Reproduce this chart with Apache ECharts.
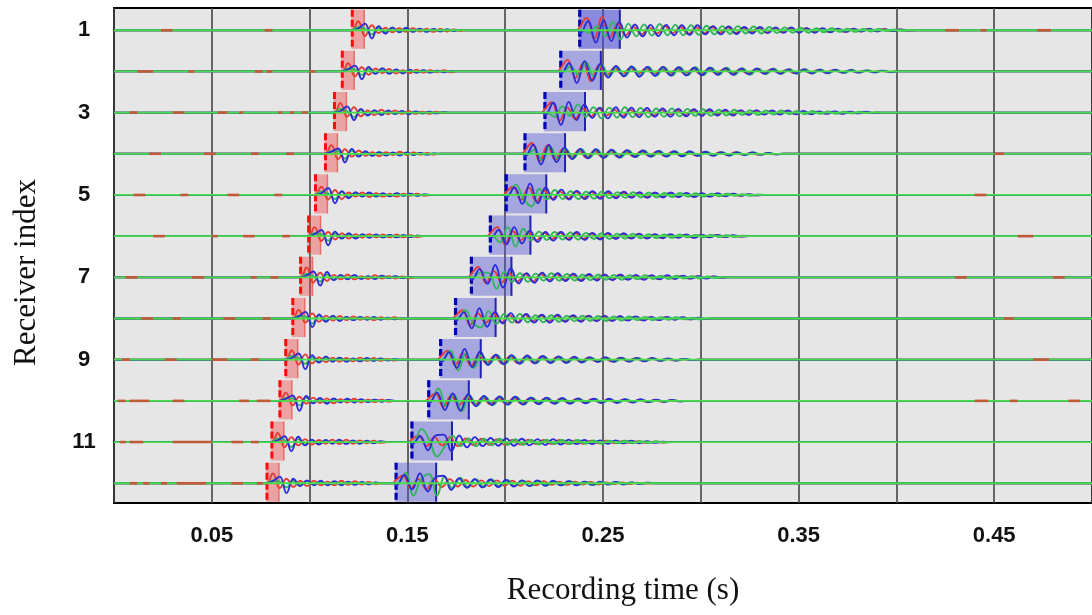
<!DOCTYPE html>
<html><head><meta charset="utf-8">
<script src="https://cdn.jsdelivr.net/npm/echarts@6/dist/echarts.min.js"></script>
<style>html,body{margin:0;padding:0;background:#fff}#c{width:1092px;height:615px}</style>
</head><body><div id="c"></div>
<script>
const receivers = [1,2,3,4,5,6,7,8,9,10,11,12];
const yTickLabels = ['1','3','5','7','9','11'];
const xTickLabels = ['0.05','0.15','0.25','0.35','0.45'];
// picked arrival times (s): P window start, S window start
const pPick = [0.1213,0.1162,0.1122,0.1076,0.1025,0.0990,0.0949,0.0909,0.0873,0.0843,0.0802,0.0777];
const sPick = [0.2376,0.2279,0.2198,0.2096,0.2000,0.1919,0.1822,0.1741,0.1665,0.1604,0.1518,0.1437];
const pWin = 0.0066, sWin = 0.021;
const pDt = 0.0035, sDt = 0.004;
const compLag = [0, 0.0014, 0.0007]; // red, green, blue
const tEnd = 0.5;

// P-wave segment amplitudes (fraction of trace spacing, + = up)
const pRed = [
[0,.22,-.14,.12,-.07,.06,-.05,.05,-.04,.05,-.03,.04,-.04,.03,-.03,.02,-.02,0],
[0,.2,-.12,.1,-.08,.07,-.04,.06,-.05,.03,-.04,.04,-.03,.03,-.02,.03,-.02,0],
[0,.23,-.1,.13,-.09,.05,-.06,.07,-.04,.05,-.03,.04,-.03,.02,-.03,.02,-.01,0],
[0,.21,-.13,.11,-.07,.08,-.05,.04,-.06,.04,-.03,.05,-.03,.03,-.02,.02,-.02,0],
[0,.2,-.11,.12,-.1,.06,-.04,.06,-.05,.04,-.04,.03,-.04,.03,-.02,.03,-.02,0],
[0,.22,-.12,.1,-.08,.07,-.06,.05,-.04,.05,-.03,.04,-.03,.04,-.03,.02,-.02,0],
[0,.24,-.13,.11,-.09,.06,-.05,.07,-.05,.03,-.04,.05,-.03,.03,-.03,.02,-.02,0],
[0,.21,-.1,.12,-.08,.07,-.05,.06,-.04,.05,-.03,.04,-.04,.03,-.02,.03,-.02,0],
[0,.23,-.12,.13,-.09,.06,-.06,.05,-.05,.04,-.04,.05,-.03,.04,-.03,.02,-.02,0],
[0,.2,-.11,.1,-.07,.08,-.05,.06,-.06,.04,-.04,.05,-.04,.03,-.03,.03,-.02,0],
[0,.22,-.13,.12,-.08,.07,-.06,.05,-.04,.06,-.05,.06,-.04,.04,-.03,.03,-.02,0],
[0,.24,-.12,.11,-.09,.06,-.07,.06,-.05,.04,-.05,.06,-.04,.05,-.03,.03,-.02,0]];
const pGreen = [
[0,.08,.04,-.1,.06,-.04,.05,-.04,.03,-.03,.03,-.02,.02,-.02,.02,-.01,.01,0],
[0,.07,.05,-.09,.06,-.05,.04,-.03,.04,-.02,.03,-.03,.02,-.02,.01,-.01,.01,0],
[0,.09,.03,-.11,.06,-.05,.04,-.04,.03,-.03,.03,-.02,.02,-.02,.02,-.01,.01,0],
[0,.06,.06,-.12,.07,-.04,.03,-.04,.04,-.03,.02,-.03,.02,-.02,.02,-.01,.01,0],
[0,.08,.04,-.1,.08,-.05,.04,-.03,.03,-.04,.02,-.03,.03,-.02,.01,-.02,.01,0],
[0,.07,.05,-.11,.06,-.04,.05,-.04,.03,-.02,.03,-.03,.02,-.02,.02,-.01,.01,0],
[0,.08,.03,-.1,.07,-.06,.04,-.03,.04,-.03,.02,-.03,.03,-.02,.02,-.01,.01,0],
[0,.06,.05,-.12,.07,-.05,.05,-.04,.03,-.03,.03,-.02,.03,-.02,.01,-.02,.01,0],
[0,.09,.04,-.1,.06,-.04,.04,-.03,.04,-.03,.02,-.03,.02,-.02,.02,-.01,.01,0],
[0,.07,.06,-.11,.08,-.05,.03,-.04,.03,-.02,.03,-.02,.03,-.02,.02,-.01,.01,0],
[0,.08,.05,-.12,.07,-.06,.04,-.04,.04,-.03,.03,-.03,.02,-.03,.02,-.02,.01,0],
[0,.07,.04,-.1,.06,-.05,.05,-.03,.03,-.03,.03,-.02,.03,-.02,.02,-.01,.01,0]];
const pBlue = [
[0,.04,.16,-.2,.1,-.08,.07,-.05,.06,-.04,.04,-.04,.03,-.03,.02,-.02,.01,0],
[0,.05,.14,-.19,.11,-.06,.08,-.06,.05,-.05,.04,-.03,.03,-.03,.02,-.02,.01,0],
[0,.03,.15,-.18,.09,-.07,.06,-.06,.05,-.03,.04,-.04,.03,-.02,.02,-.02,.01,0],
[0,.05,.13,-.21,.12,-.07,.06,-.05,.04,-.04,.03,-.04,.03,-.03,.02,-.02,.01,0],
[0,.04,.17,-.2,.09,-.08,.07,-.04,.06,-.03,.04,-.03,.04,-.02,.03,-.02,.01,0],
[0,.05,.15,-.22,.11,-.06,.07,-.06,.05,-.04,.04,-.03,.03,-.03,.02,-.02,.01,0],
[0,.04,.14,-.2,.13,-.07,.06,-.05,.06,-.04,.03,-.04,.04,-.02,.03,-.02,.01,0],
[0,.05,.16,-.21,.1,-.08,.07,-.06,.04,-.04,.04,-.03,.03,-.03,.02,-.02,.01,0],
[0,.04,.15,-.23,.11,-.07,.08,-.05,.05,-.05,.03,-.04,.04,-.03,.03,-.02,.01,0],
[0,.05,.13,-.24,.12,-.06,.07,-.07,.06,-.04,.05,-.04,.04,-.03,.03,-.02,.02,0],
[0,.04,.14,-.22,.13,-.08,.06,-.06,.05,-.04,.06,-.05,.04,-.04,.03,-.03,.02,0],
[0,.05,.16,-.24,.11,-.07,.07,-.05,.06,-.05,.05,-.05,.04,-.04,.03,-.03,.02,0]];

// S-wave + coda segment amplitudes
const sRed = [
[.04,.3,-.2,.32,-.18,.16,-.12,.08,-.1,.07,-.08,.1,-.07,.08,-.09,.07,-.08,.08,-.06,.07,-.07,.06,-.05,.06,-.06,.05,-.05,.05,-.04,.05,-.04,.04,-.04,.03,-.04,.03,-.03,.03,-.02,.03,-.02,.02,-.01,0],
[.05,.28,-.16,.2,-.24,.14,-.1,.09,-.07,.08,-.06,.07,-.07,.06,-.05,.06,-.05,.05,-.06,.05,-.04,.05,-.04,.04,-.05,.04,-.03,.04,-.03,.03,-.04,.03,-.03,.03,-.02,.03,-.02,.02,-.02,.02,-.01,.01,-.01,0],
[.06,.25,-.2,.12,-.15,.1,-.09,.1,-.07,.07,-.08,.07,-.06,.06,-.07,.06,-.05,.05,-.05,.05,-.04,.05,-.04,.04,-.04,.04,-.03,.04,-.03,.03,-.03,.03,-.03,.02,-.02,.02,-.02,.02,-.02,.01,-.01,.01,-.01,0],
[.05,.26,-.18,.2,-.14,.12,-.1,.08,-.09,.07,-.08,.07,-.07,.06,-.06,.06,-.05,.05,-.05,.05,-.04,.04,-.04,.04,-.03,.03,-.03,.03,-.02,.02,-.02,.01,-.01,0],
[.04,.2,-.12,.18,-.16,.1,-.09,.08,-.09,.08,-.07,.07,-.07,.06,-.06,.06,-.05,.05,-.05,.04,-.04,.04,-.04,.03,-.03,.03,-.03,.02,-.02,.02,-.02,.01,-.01,0],
[.05,.22,-.2,.12,-.1,.09,-.1,.08,-.07,.09,-.07,.07,-.07,.06,-.06,.06,-.05,.05,-.05,.05,-.04,.04,-.04,.03,-.03,.03,-.03,.02,-.02,.02,-.02,.01,-.01,0],
[.06,.25,-.14,.15,-.12,.09,-.1,.08,-.1,.08,-.07,.08,-.07,.06,-.07,.06,-.05,.06,-.05,.05,-.05,.04,-.04,.04,-.04,.03,-.03,.03,-.03,.02,-.02,.02,-.01,0],
[.04,.2,-.16,.12,-.1,.12,-.09,.08,-.1,.09,-.07,.08,-.07,.07,-.07,.06,-.06,.06,-.05,.05,-.05,.04,-.04,.04,-.04,.03,-.03,.03,-.02,.02,-.02,.01,-.01,0],
[.05,.22,-.12,.16,-.14,.1,-.08,.09,-.09,.08,-.08,.07,-.07,.07,-.06,.06,-.06,.05,-.05,.05,-.04,.04,-.04,.04,-.03,.03,-.03,.03,-.02,.02,-.02,.01,-.01,0],
[.04,.18,-.14,.12,-.1,.1,-.09,.08,-.08,.08,-.07,.07,-.07,.06,-.06,.06,-.05,.05,-.05,.04,-.04,.04,-.04,.03,-.03,.03,-.03,.02,-.02,.02,-.02,.01,-.01,0],
[.05,.16,-.1,.12,-.08,.12,-.1,.09,-.08,.08,-.07,.07,-.07,.06,-.06,.06,-.05,.05,-.05,.05,-.04,.04,-.04,.03,-.03,.03,-.03,.02,-.02,.02,-.02,.01,-.01,0],
[.06,.18,-.12,.1,-.14,.1,-.09,.1,-.08,.08,-.08,.07,-.07,.07,-.06,.06,-.06,.05,-.05,.05,-.04,.04,-.04,.04,-.03,.03,-.03,.02,-.02,.02,-.02,.01,-.01,0]];
const sGreen = [
[0,-.06,.1,-.14,.2,-.22,.16,-.15,.14,-.13,.15,-.12,.13,-.12,.12,-.11,.11,-.1,.1,-.09,.1,-.08,.09,-.08,.08,-.07,.07,-.06,.06,-.06,.05,-.05,.05,-.04,.04,-.04,.03,-.03,.03,-.02,.02,-.02,.01,0],
[0,.12,-.08,.22,-.12,.16,-.11,.1,-.11,.1,-.1,.11,-.1,.1,-.1,.1,-.09,.1,-.09,.09,-.08,.09,-.08,.08,-.08,.07,-.07,.07,-.06,.06,-.06,.06,-.05,.05,-.05,.04,-.04,.04,-.03,.03,-.03,.02,-.02,0],
[0,-.1,.15,-.08,.2,-.1,.13,-.14,.12,-.12,.13,-.11,.11,-.11,.1,-.1,.1,-.09,.09,-.08,.08,-.08,.07,-.07,.07,-.06,.06,-.06,.05,-.05,.05,-.04,.04,-.04,.04,-.03,.03,-.03,.02,-.02,.02,-.01,.01,0],
[0,.1,-.16,.18,-.12,.11,-.1,.11,-.1,.1,-.09,.09,-.09,.08,-.08,.08,-.07,.07,-.06,.06,-.06,.05,-.05,.05,-.04,.04,-.04,.03,-.03,.03,-.02,.02,-.01,0],
[0,.25,-.1,-.28,.15,-.11,.12,-.1,.09,-.1,.08,-.09,.08,-.08,.07,-.07,.07,-.06,.06,-.06,.05,-.05,.05,-.04,.04,-.04,.03,-.03,.03,-.02,.02,-.02,.01,0],
[0,-.15,.22,-.25,.18,-.1,.11,-.09,.1,-.08,.09,-.08,.08,-.07,.07,-.07,.06,-.06,.06,-.05,.05,-.05,.04,-.04,.04,-.03,.03,-.03,.03,-.02,.02,-.02,.01,0],
[0,.12,.1,-.28,.13,-.11,.1,-.11,.09,-.08,.1,-.08,.08,-.08,.07,-.07,.07,-.06,.06,-.06,.05,-.05,.05,-.04,.04,-.04,.04,-.03,.03,-.03,.02,-.02,.01,0],
[0,.2,-.1,-.22,.18,-.13,.11,-.1,.11,-.09,.08,-.09,.08,-.08,.07,-.07,.07,-.06,.06,-.06,.05,-.05,.05,-.04,.04,-.04,.03,-.03,.03,-.02,.02,-.02,.01,0],
[0,.22,-.26,.15,-.2,.11,-.1,.11,-.1,.09,-.09,.08,-.08,.08,-.07,.07,-.07,.06,-.06,.05,-.05,.05,-.05,.04,-.04,.04,-.03,.03,-.03,.02,-.02,.02,-.01,0],
[0,.3,-.12,.15,-.25,.13,-.11,.1,-.1,.09,-.09,.09,-.08,.08,-.07,.07,-.07,.06,-.06,.06,-.05,.05,-.05,.04,-.04,.04,-.03,.03,-.03,.02,-.02,.02,-.01,0],
[0,.32,.05,-.35,-.1,.15,-.1,.09,-.1,.08,-.08,.08,-.07,.07,-.07,.06,-.06,.06,-.05,.05,-.05,.05,-.04,.04,-.04,.03,-.03,.03,-.03,.02,-.02,.02,-.01,0],
[0,.25,-.3,.1,.22,-.3,.16,-.12,.13,-.1,.1,-.09,.09,-.08,.08,-.07,.07,-.07,.06,-.06,.05,-.05,.05,-.04,.04,-.04,.03,-.03,.03,-.02,.02,-.02,.01,0]];
const sBlue = [
[-.08,.22,-.3,.24,-.26,.2,-.18,.14,-.15,.13,-.14,.13,-.12,.12,-.11,.12,-.1,.1,-.1,.09,-.09,.08,-.08,.08,-.07,.07,-.06,.07,-.06,.05,-.06,.05,-.05,.04,-.04,.04,-.03,.03,-.03,.02,-.02,.02,-.01,0],
[-.05,.2,-.28,.25,-.22,.18,-.15,.13,-.12,.12,-.13,.11,-.11,.11,-.1,.1,-.1,.09,-.09,.09,-.08,.08,-.08,.07,-.07,.07,-.06,.06,-.06,.05,-.05,.05,-.05,.04,-.04,.04,-.03,.03,-.03,.02,-.02,.02,-.01,0],
[-.06,.24,-.3,.26,-.18,.2,-.13,.12,-.14,.13,-.12,.12,-.11,.11,-.1,.1,-.1,.09,-.09,.08,-.08,.08,-.07,.07,-.07,.06,-.06,.06,-.05,.05,-.05,.05,-.04,.04,-.04,.03,-.03,.03,-.03,.02,-.02,.02,-.01,0],
[-.06,.22,-.26,.22,-.2,.15,-.13,.12,-.11,.11,-.1,.1,-.09,.09,-.08,.08,-.07,.07,-.07,.06,-.06,.06,-.05,.05,-.05,.04,-.04,.04,-.03,.03,-.02,.02,-.01,0],
[-.05,.18,-.22,.28,-.2,.18,-.12,.13,-.11,.1,-.1,.09,-.09,.09,-.08,.08,-.07,.07,-.07,.06,-.06,.06,-.05,.05,-.05,.04,-.04,.04,-.03,.03,-.02,.02,-.01,0],
[-.04,.15,-.2,.22,-.18,.13,-.14,.1,-.11,.1,-.09,.1,-.09,.08,-.08,.08,-.07,.07,-.06,.06,-.06,.05,-.05,.05,-.04,.04,-.04,.03,-.03,.03,-.02,.02,-.01,0],
[-.06,.2,-.16,.3,-.25,.22,-.15,.1,-.13,.11,-.1,.1,-.09,.09,-.09,.08,-.08,.07,-.07,.07,-.06,.06,-.06,.05,-.05,.05,-.04,.04,-.03,.03,-.03,.02,-.01,0],
[-.05,.15,-.24,.25,-.2,.16,-.12,.13,-.1,.11,-.1,.09,-.1,.09,-.08,.08,-.08,.07,-.07,.07,-.06,.06,-.05,.05,-.05,.04,-.04,.04,-.03,.03,-.02,.02,-.01,0],
[-.06,.18,-.2,.26,-.18,.2,-.13,.12,-.11,.11,-.1,.1,-.09,.09,-.08,.08,-.08,.07,-.07,.06,-.06,.06,-.05,.05,-.05,.04,-.04,.04,-.03,.03,-.02,.02,-.01,0],
[-.05,.2,-.22,.18,-.24,.16,-.13,.12,-.1,.11,-.09,.1,-.09,.08,-.08,.08,-.07,.07,-.07,.06,-.06,.05,-.05,.05,-.05,.04,-.04,.04,-.03,.03,-.02,.02,-.01,0],
[-.05,.14,-.2,.16,.18,-.22,.16,-.13,.12,-.1,.1,-.09,.09,-.09,.08,-.08,.07,-.07,.07,-.06,.06,-.05,.05,-.05,.04,-.04,.04,-.03,.03,-.03,.02,-.02,.01,0],
[-.05,.2,-.15,.24,-.2,.14,.18,-.16,.12,-.11,.1,-.1,.09,-.09,.08,-.08,.07,-.07,.07,-.06,.06,-.05,.05,-.05,.04,-.04,.04,-.03,.03,-.03,.02,-.02,.01,0]];

// small noise blips on the baselines: [t start, t end, receiver]
const noiseBlips = [
[.024,.03,1],[.077,.081,1],[.425,.432,1],[.443,.446,1],[.472,.479,1],
[.012,.02,2],[.038,.041,2],[.072,.076,2],[.078,.081,2],[.1,.103,2],
[.008,.012,3],[.03,.036,3],[.053,.058,3],[.064,.066,3],[.084,.086,3],[.09,.092,3],[.096,.099,3],
[.018,.024,4],[.046,.052,4],[.07,.074,4],[.088,.092,4],[.45,.455,4],
[.01,.016,5],[.034,.038,5],[.058,.064,5],[.082,.086,5],[.44,.446,5],
[.02,.026,6],[.05,.053,6],[.066,.072,6],[.086,.09,6],[.462,.47,6],
[.006,.012,7],[.04,.046,7],[.07,.073,7],[.08,.084,7],[.43,.436,7],[.48,.486,7],
[.014,.02,8],[.03,.034,8],[.056,.062,8],[.076,.08,8],[.455,.46,8],
[.004,.008,9],[.026,.032,9],[.05,.058,9],[.07,.074,9],[.47,.478,9],
[.002,.006,10],[.008,.018,10],[.03,.036,10],[.064,.069,10],[.073,.08,10],[.44,.447,10],[.458,.462,10],[.488,.494,10],
[.003,.006,11],[.008,.015,11],[.03,.05,11],[.06,.066,11],[.07,.074,11],
[.008,.012,12],[.015,.018,12],[.024,.027,12],[.032,.047,12],[.06,.066,12],[.073,.076,12]];

function traceData(pArr, sArr, lag){
  const out = [];
  receivers.forEach((r, i) => {
    out.push([0, r]);
    pArr[i].forEach((a, k) => out.push([pPick[i] + k * pDt, r - a]));
    out.push([sPick[i] + lag - 0.0012, r]);
    sArr[i].forEach((a, k) => out.push([sPick[i] + lag + k * sDt, r - a]));
    out.push([tEnd, r]);
    out.push(['-', '-']);
  });
  return out;
}
const baseData = [];
receivers.forEach(r => { baseData.push([0, r], [tEnd, r], ['-', '-']); });
const pickData = receivers.map((r, i) => [pPick[i], sPick[i], r]);

function traceSeries(name, color, pArr, sArr, lag, z){
  return {name, type:'line', data: traceData(pArr, sArr, lag), showSymbol:false, smooth:0.45,
    connectNulls:false, z, lineStyle:{color, width:1.9}, silent:true};
}

const chart = echarts.init(document.getElementById('c'), null, {renderer:'canvas'});
chart.setOption({
  animation:false,
  backgroundColor:'#ffffff',
  grid:{left:114, right:-8, top:8, bottom:112, show:true, backgroundColor:'#e6e6e6', borderColor:'#000', borderWidth:2},
  xAxis:{type:'value', min:0, max:tEnd, interval:0.05,
    axisLine:{show:false, onZero:false}, axisTick:{show:false},
    splitLine:{show:true, lineStyle:{color:'#454545', width:1.6}},
    axisLabel:{customValues: xTickLabels.map(Number), formatter: v => xTickLabels[xTickLabels.map(Number).indexOf(v)] || '',
      fontSize:22, fontWeight:'bold', color:'#111', fontFamily:'Liberation Sans, Arial, sans-serif', margin:22},
    name:'Recording time (s)', nameLocation:'middle', nameGap:72,
    nameTextStyle:{fontSize:31, fontFamily:'Liberation Serif, Times New Roman, serif', color:'#111', padding:[0,0,0,40]}},
  yAxis:{type:'value', inverse:true, min:0.46, max:12.48,
    axisLine:{show:false}, axisTick:{show:false}, splitLine:{show:false},
    axisLabel:{customValues: yTickLabels.map(Number), formatter: v => yTickLabels[yTickLabels.map(Number).indexOf(v)] || '',
      fontSize:22, fontWeight:'bold', color:'#111', fontFamily:'Liberation Sans, Arial, sans-serif', align:'center', margin:30},
    name:'Receiver index', nameLocation:'middle', nameGap:72,
    nameTextStyle:{fontSize:31, fontFamily:'Liberation Serif, Times New Roman, serif', color:'#111', padding:[0,34,0,0]}},
  series:[
    {type:'custom', z:1, silent:true, data: pickData, encode:{x:[0,1], y:2},
      renderItem(params, api){
        const tp = api.value(0), ts = api.value(1), r = api.value(2);
        const a = api.coord([tp, r - 0.5]), b = api.coord([tp + pWin, r + 0.45]);
        const c = api.coord([ts, r - 0.5]), d = api.coord([ts + sWin, r + 0.45]);
        const sFill = params.dataIndex === 0 ? 'rgba(70,70,215,0.58)' : 'rgba(80,80,215,0.42)';
        return {type:'group', children:[
          {type:'rect', shape:{x:a[0], y:a[1], width:b[0]-a[0], height:b[1]-a[1]}, style:{fill:'rgba(240,70,70,0.42)'}},
          {type:'line', shape:{x1:b[0], y1:a[1], x2:b[0], y2:b[1]}, style:{stroke:'#f06a6a', lineWidth:1.5}},
          {type:'line', shape:{x1:a[0]+1, y1:a[1], x2:a[0]+1, y2:b[1]}, style:{stroke:'#ff0a0a', lineWidth:3, lineDash:[7,3]}},
          {type:'rect', shape:{x:c[0], y:c[1], width:d[0]-c[0], height:d[1]-c[1]}, style:{fill:sFill}},
          {type:'line', shape:{x1:d[0], y1:c[1], x2:d[0], y2:d[1]}, style:{stroke:'#2222b0', lineWidth:2}},
          {type:'line', shape:{x1:c[0]+1, y1:c[1], x2:c[0]+1, y2:d[1]}, style:{stroke:'#0000b4', lineWidth:3.2, lineDash:[7,3]}}
        ]};
      }},
    traceSeries('Z', '#e63c34', pRed, sRed, compLag[0], 3),
    traceSeries('N', '#34b45e', pGreen, sGreen, compLag[1], 4),
    traceSeries('E', '#2e2cd6', pBlue, sBlue, compLag[2], 5),
    {type:'line', data: baseData, showSymbol:false, z:6, silent:true, connectNulls:false,
      lineStyle:{color:'#46e046', width:1.8}},
    {type:'custom', z:7, silent:true, data: noiseBlips, encode:{x:[0,1], y:2},
      renderItem(params, api){
        const p = api.coord([api.value(0), api.value(2)]), q = api.coord([api.value(1), api.value(2)]);
        return {type:'line', shape:{x1:p[0], y1:p[1], x2:Math.max(q[0], p[0]+3), y2:q[1]},
          style:{stroke:'#c2593a', lineWidth:2.6}};
      }}
  ]
});
</script></body></html>
